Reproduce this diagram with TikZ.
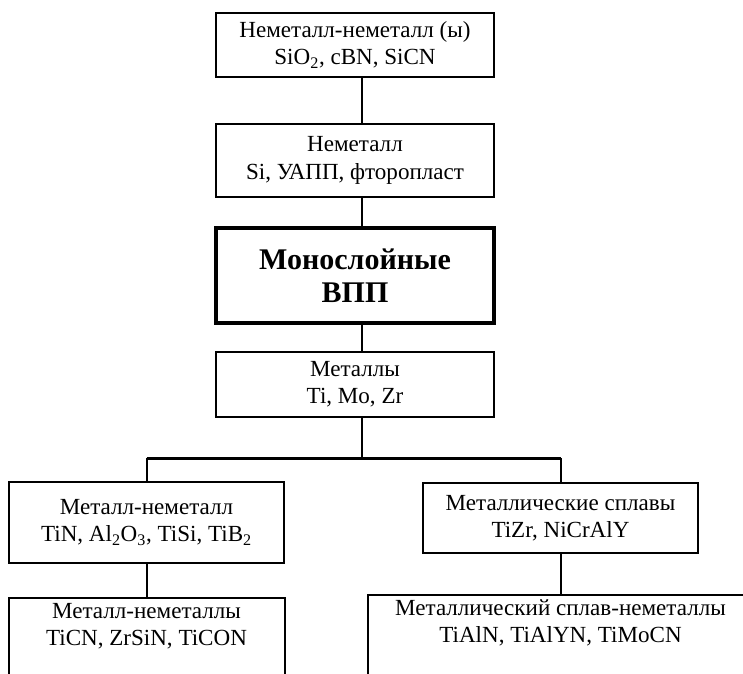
\documentclass[tikz,border=0pt]{standalone}
\usepackage{fontspec}
\setmainfont{Liberation Serif}

\tikzset{every picture/.style={line width=0.75pt}}
\tikzset{
  blok/.style={draw, line width=1.5pt, align=center, inner sep=0.75pt, font=\fontsize{17.3}{20.5}\selectfont},
  glavblok/.style={draw, line width=3pt, align=center, inner sep=0.75pt, font=\bfseries\fontsize{22.5}{25}\selectfont},
  otkrblok/.style={align=center, inner sep=0.75pt, font=\fontsize{17.3}{20.5}\selectfont},
  svyaz/.style={line width=1.5pt},
}

\begin{document}
\begin{tikzpicture}[x=0.75pt,y=0.75pt,yscale=-1,xscale=1]
\useasboundingbox (0,0) rectangle (743,674);
\clip (0,0) rectangle (743,674);

% Text Node
\draw (355,45) node [blok, minimum width=208.5pt, minimum height=48pt] (nn) {Неметалл-неметалл (ы)\\SiO\textsubscript{2}, cBN, SiCN};
% Text Node
\draw (355,160.5) node [blok, minimum width=208.5pt, minimum height=54pt] (ne) {Неметалл\\Si, УАПП, фторопласт};
% Text Node
\draw (355,275.5) node [glavblok, minimum width=208.5pt, minimum height=71.25pt] (mono) {Монослойные\\ВПП};
% Text Node
\draw (355,384.5) node [blok, minimum width=208.5pt, minimum height=48.75pt] (met) {Металлы\\Ti, Mo, Zr};
% Text Node
\draw (146.5,522.5) node [blok, minimum width=206.25pt, minimum height=60.75pt] (mn) {Металл-неметалл\\TiN, Al\textsubscript{2}O\textsubscript{3}, TiSi, TiB\textsubscript{2}};
% Text Node
\draw (560.5,518) node [blok, minimum width=206.25pt, minimum height=52.5pt] (ms) {Металлические сплавы\\TiZr, NiCrAlY};
% Text Node
\draw (146.5,626) node [otkrblok, minimum width=206.25pt, minimum height=42pt] (mnn) {Металл-неметаллы\\TiCN, ZrSiN, TiCON};
% Text Node
\draw (560.5,623) node [otkrblok, minimum width=288pt, minimum height=42pt] (msn) {Металлический сплав-неметаллы\\TiAlN, TiAlYN, TiMoCN};

%Shape: Rectangle (open at the bottom)
\draw [svyaz] (mnn.south west) ++(0,40) |- (mnn.north east) -- ++(0,96);
\draw [svyaz] (msn.south west) ++(0,40) |- (msn.north east) -- ++(0,96);

\coordinate (stvol) at (362,458);
\coordinate (lvet) at (146.5,458);
\coordinate (pvet) at (560.5,458);

%Straight Lines
\draw [svyaz] (nn.south -| stvol) -- (ne.north -| stvol);
\draw [svyaz] (ne.south -| stvol) -- (mono.north -| stvol);
\draw [svyaz] (mono.south -| stvol) -- (met.north -| stvol);
\draw [svyaz] (met.south -| stvol) -- (stvol);
\draw [line width=2.25pt] (lvet) -- (pvet);
\draw [svyaz] (lvet) -- (mn.north);
\draw [svyaz] (pvet) -- (ms.north);
\draw [svyaz] (mn.south) -- (mnn.north);
\draw [svyaz] (ms.south) -- (msn.north);

\end{tikzpicture}
\end{document}
